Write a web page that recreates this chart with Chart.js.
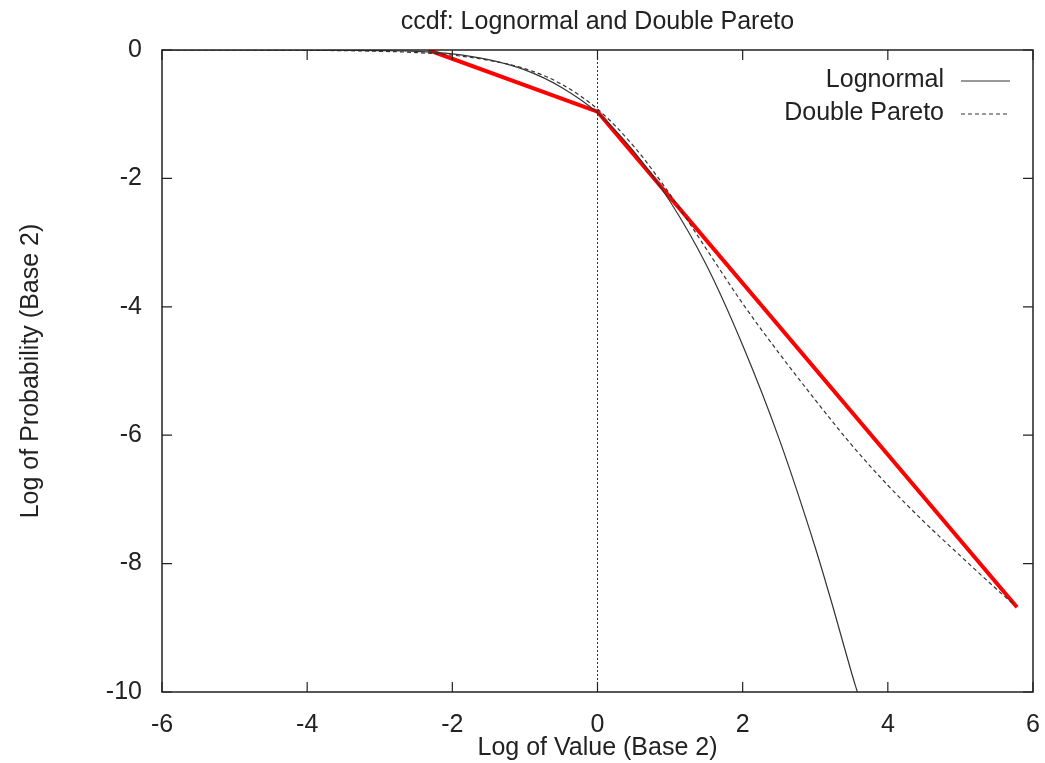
<!DOCTYPE html>
<html>
<head>
<meta charset="utf-8">
<script src="https://cdn.jsdelivr.net/npm/chart.js@4.4.1/dist/chart.umd.min.js"></script>
<style>
  html, body { margin: 0; padding: 0; background: #fff; }
  #wrap { width: 1045px; height: 763px; }
</style>
</head>
<body>
<div id="wrap"><canvas id="ccdf"></canvas></div>
<script>
// valores (log2 valor, log2 probabilidad)
const logX = [-6, -5, -4, -3, -2.5, -2, -1.5, -1, -0.5, 0, 0.5, 1, 1.5, 2, 2.5, 3, 3.25, 3.5, 3.58];
const lognormalY = [0, 0, 0, -0.01, -0.02, -0.06, -0.15, -0.31, -0.58, -0.98, -1.58, -2.36, -3.35, -4.6, -6.05, -7.75, -8.7, -9.7, -10];

const dpX = [-6, -5, -4, -3, -2.5, -2, -1.5, -1, -0.5, 0, 0.5, 1, 1.5, 2, 2.5, 3, 3.5, 4, 4.5, 5, 5.5, 5.75];
const doubleParetoY = [0, 0, -0.005, -0.02, -0.04, -0.08, -0.16, -0.29, -0.53, -0.92, -1.5, -2.25, -3.1, -3.95, -4.72, -5.45, -6.15, -6.78, -7.35, -7.88, -8.4, -8.65];

// tramos rectos (rojo)
const redX = [-2.33, 0, 5.78];
const redY = [0, -0.96, -8.68];

const xTicks = [-6, -4, -2, 0, 2, 4, 6];
const yTicks = [0, -2, -4, -6, -8, -10];

const chartTitle = 'ccdf: Lognormal and Double Pareto';
const xTitle = 'Log of Value (Base 2)';
const yTitle = 'Log of Probability (Base 2)';
const legendNames = ['Lognormal', 'Double Pareto'];

const FONT = '"Liberation Sans", Arial, Helvetica, sans-serif';

function pares(xs, ys) {
    return xs.map((x, i) => ({ x: x, y: ys[i] }));
}

// marco, marcas hacia adentro, titulo y leyenda al estilo gnuplot
const marco = {
    id: 'marco',
    afterDraw(chart) {
        const ctx = chart.ctx;
        const a = chart.chartArea;
        const sx = chart.scales.x, sy = chart.scales.y;
        ctx.save();
        ctx.strokeStyle = '#222';
        ctx.lineWidth = 1.5;
        ctx.strokeRect(a.left, a.top, a.right - a.left, a.bottom - a.top);
        ctx.lineWidth = 1.2;
        const L = 10;
        ctx.beginPath();
        xTicks.forEach(v => {
            const px = sx.getPixelForValue(v);
            ctx.moveTo(px, a.bottom); ctx.lineTo(px, a.bottom - L);
            ctx.moveTo(px, a.top); ctx.lineTo(px, a.top + L);
        });
        yTicks.forEach(v => {
            const py = sy.getPixelForValue(v);
            ctx.moveTo(a.left, py); ctx.lineTo(a.left + L, py);
            ctx.moveTo(a.right, py); ctx.lineTo(a.right - L, py);
        });
        ctx.stroke();

        // titulo
        ctx.fillStyle = '#222';
        ctx.font = '25px ' + FONT;
        ctx.textAlign = 'center';
        ctx.textBaseline = 'middle';
        ctx.fillText(chartTitle, (a.left + a.right) / 2, 22);

        // leyenda
        ctx.textAlign = 'right';
        const filas = [80, 113];
        const dashes = [[], [4, 3]];
        filas.forEach((py, i) => {
            ctx.fillStyle = '#222';
            ctx.fillText(legendNames[i], 944, py);
            ctx.setLineDash(dashes[i]);
            ctx.strokeStyle = '#333';
            ctx.lineWidth = 1.2;
            ctx.beginPath();
            ctx.moveTo(961, py + 1); ctx.lineTo(1010, py + 1);
            ctx.stroke();
        });
        ctx.restore();
    }
};

const ctx = document.getElementById('ccdf').getContext('2d');
const chart = new Chart(ctx, {
    type: 'scatter',
    data: {
        datasets: [{
            label: 'eje0',
            data: [{ x: 0, y: 0 }, { x: 0, y: -10 }],
            showLine: true,
            borderColor: '#333',
            borderWidth: 1,
            borderDash: [2, 2],
            pointRadius: 0
        }, {
            label: legendNames[0],
            data: pares(logX, lognormalY),
            showLine: true,
            borderColor: '#333',
            borderWidth: 1.2,
            cubicInterpolationMode: 'monotone',
            pointRadius: 0
        }, {
            label: legendNames[1],
            data: pares(dpX, doubleParetoY),
            showLine: true,
            borderColor: '#333',
            borderWidth: 1.2,
            borderDash: [4, 3],
            cubicInterpolationMode: 'monotone',
            pointRadius: 0
        }, {
            label: 'tramos',
            data: pares(redX, redY),
            showLine: true,
            borderColor: '#ff0000',
            borderWidth: 4,
            pointRadius: 0
        }]
    },
    options: {
        responsive: true,
        maintainAspectRatio: false,
        animation: false,
        layout: { padding: { top: 50, right: 12, left: 0, bottom: 0 } },
        plugins: {
            legend: { display: false },
            title: { display: false },
            tooltip: { enabled: false }
        },
        scales: {
            x: {
                type: 'linear',
                min: -6, max: 6,
                afterBuildTicks: s => { s.ticks = xTicks.map(v => ({ value: v })); },
                afterFit: s => { s.height = 71; s.paddingRight = 0; s.paddingLeft = 0; },
                grid: { display: false },
                border: { display: false },
                ticks: { color: '#222', font: { family: FONT, size: 25 }, padding: 10, maxRotation: 0 },
                title: { display: true, text: xTitle, color: '#222', font: { family: FONT, size: 25 }, padding: { top: -4, bottom: 0 } }
            },
            y: {
                type: 'linear',
                min: -10, max: 0,
                afterBuildTicks: s => { s.ticks = yTicks.map(v => ({ value: v })); },
                afterFit: s => { s.width = 162; },
                grid: { display: false },
                border: { display: false },
                ticks: { color: '#222', font: { family: FONT, size: 25 }, padding: 12 },
                title: { display: true, text: yTitle, color: '#222', font: { family: FONT, size: 25 }, padding: { top: 16, bottom: 0 } }
            }
        }
    },
    plugins: [marco]
});
</script>
</body>
</html>
